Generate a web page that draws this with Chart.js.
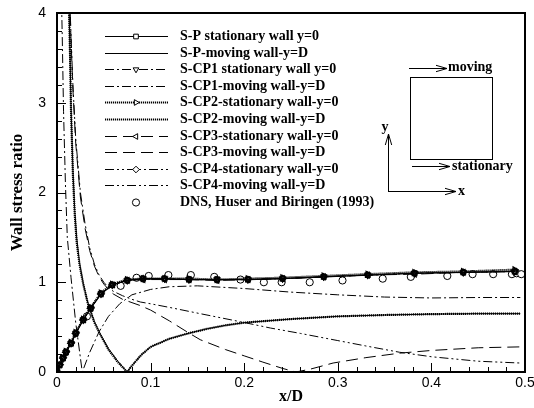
<!DOCTYPE html>
<html><head><meta charset="utf-8">
<script src="https://cdn.jsdelivr.net/npm/chart.js@4.4.1/dist/chart.umd.min.js"></script>
<style>html,body{margin:0;padding:0;background:#fff;}#wrap{width:534px;height:408px;}</style>
</head><body><div id="wrap"><canvas id="c" width="534" height="408"></canvas></div>
<script>
// ---- data ----
const seriesLabels = [
  "S-P stationary wall y=0", "S-P-moving wall-y=D",
  "S-CP1 stationary wall y=0", "S-CP1-moving wall-y=D",
  "S-CP2-stationary wall-y=0", "S-CP2-moving wall-y=D",
  "S-CP3-stationary wall-y=0", "S-CP3-moving wall-y=D",
  "S-CP4-stationary wall-y=0", "S-CP4-moving wall-y=D",
  "DNS, Huser and Biringen (1993)"
];
const xTicks = [0, 0.1, 0.2, 0.3, 0.4, 0.5];
const yTicks = [0, 1, 2, 3, 4];

const xStat   = [0, 0.003, 0.0064, 0.0096, 0.015, 0.02, 0.028, 0.036, 0.047, 0.059, 0.075, 0.092, 0.115, 0.141, 0.171, 0.204, 0.241, 0.285, 0.332, 0.382, 0.434, 0.489];
const spStat  = [0, 0.08, 0.156, 0.222, 0.32, 0.43, 0.58, 0.71, 0.87, 0.97, 1.02, 1.04, 1.04, 1.03, 1.03, 1.03, 1.04, 1.06, 1.08, 1.10, 1.11, 1.12];
const cp1Stat = [0, 0.08, 0.15, 0.22, 0.32, 0.43, 0.58, 0.71, 0.87, 0.97, 1.02, 1.04, 1.04, 1.03, 1.03, 1.03, 1.04, 1.06, 1.08, 1.10, 1.11, 1.12];
const cp2Stat = [0, 0.08, 0.16, 0.23, 0.33, 0.44, 0.59, 0.72, 0.88, 0.98, 1.03, 1.04, 1.04, 1.04, 1.03, 1.04, 1.05, 1.07, 1.09, 1.11, 1.12, 1.14];
const cp3Stat = [0, 0.08, 0.155, 0.22, 0.32, 0.43, 0.58, 0.71, 0.87, 0.97, 1.02, 1.03, 1.03, 1.03, 1.02, 1.03, 1.04, 1.06, 1.08, 1.09, 1.11, 1.12];
const cp4Stat = [0, 0.08, 0.155, 0.22, 0.32, 0.43, 0.58, 0.71, 0.87, 0.97, 1.02, 1.04, 1.04, 1.03, 1.03, 1.03, 1.04, 1.06, 1.08, 1.10, 1.11, 1.12];

const xSpMov  = [0.0125, 0.013, 0.014, 0.015, 0.017, 0.019, 0.021, 0.024, 0.028, 0.033, 0.04, 0.046, 0.055, 0.065, 0.075, 0.08, 0.09, 0.1, 0.12, 0.14, 0.16, 0.18, 0.2, 0.25, 0.3, 0.35, 0.4, 0.45, 0.495];
const spMov   = [4.2, 4.0, 3.5, 2.95, 2.25, 1.8, 1.5, 1.22, 0.99, 0.77, 0.56, 0.43, 0.26, 0.12, 0, 0.07, 0.19, 0.28, 0.37, 0.43, 0.48, 0.52, 0.55, 0.59, 0.62, 0.635, 0.645, 0.65, 0.65];
const xCp2Mov = [0.0125, 0.013, 0.014, 0.015, 0.017, 0.019, 0.021, 0.024, 0.028, 0.033, 0.04, 0.046, 0.055, 0.065, 0.075, 0.08, 0.09, 0.1, 0.12, 0.14, 0.16, 0.18, 0.2, 0.25, 0.3, 0.35, 0.4, 0.45, 0.495];
const cp2Mov  = [4.2, 4.0, 3.5, 2.9, 2.2, 1.75, 1.45, 1.2, 0.98, 0.76, 0.55, 0.42, 0.25, 0.11, 0, 0.07, 0.19, 0.28, 0.37, 0.43, 0.48, 0.52, 0.55, 0.59, 0.62, 0.635, 0.645, 0.65, 0.65];
const xCp1Mov = [0.0045, 0.0055, 0.007, 0.009, 0.011, 0.015, 0.02, 0.027, 0.035, 0.045, 0.055, 0.067, 0.08, 0.1, 0.12, 0.15, 0.2, 0.25, 0.3, 0.35, 0.4, 0.45, 0.495];
const cp1Mov  = [4.3, 3.8, 2.9, 2.1, 1.5, 1.05, 0.55, 0, 0.22, 0.45, 0.62, 0.76, 0.86, 0.92, 0.95, 0.96, 0.93, 0.89, 0.86, 0.835, 0.825, 0.83, 0.83];
const xCp3Mov = [0.0135, 0.015, 0.017, 0.02, 0.025, 0.03, 0.035, 0.04, 0.045, 0.05, 0.055, 0.06, 0.07, 0.089, 0.1, 0.12, 0.14, 0.153, 0.18, 0.2, 0.22, 0.241, 0.255, 0.27, 0.295, 0.33, 0.366, 0.4, 0.45, 0.495];
const cp3Mov  = [4.2, 3.7, 3.15, 2.55, 1.95, 1.6, 1.35, 1.18, 1.06, 0.98, 0.92, 0.87, 0.81, 0.74, 0.69, 0.57, 0.44, 0.36, 0.25, 0.18, 0.11, 0.04, 0, 0.03, 0.1, 0.16, 0.21, 0.24, 0.27, 0.28];
const xCp4Mov = [0.0135, 0.015, 0.017, 0.02, 0.025, 0.03, 0.035, 0.04, 0.045, 0.05, 0.055, 0.06, 0.07, 0.08, 0.089, 0.1, 0.12, 0.153, 0.196, 0.228, 0.26, 0.3, 0.33, 0.366, 0.4, 0.45, 0.495];
const cp4Mov  = [4.2, 3.75, 3.2, 2.6, 2.0, 1.65, 1.38, 1.2, 1.08, 1.0, 0.94, 0.9, 0.85, 0.81, 0.78, 0.76, 0.72, 0.65, 0.56, 0.49, 0.43, 0.35, 0.29, 0.22, 0.17, 0.12, 0.1];

const xDns = [0.032, 0.068, 0.085, 0.098, 0.119, 0.143, 0.168, 0.196, 0.221, 0.24, 0.27, 0.305, 0.348, 0.378, 0.417, 0.444, 0.466, 0.486, 0.491, 0.496];
const dns  = [0.62, 0.96, 1.05, 1.07, 1.08, 1.08, 1.06, 1.03, 1.0, 1.0, 1.0, 1.02, 1.04, 1.06, 1.07, 1.09, 1.09, 1.09, 1.1, 1.09];

// ---- build ----
const pts = (xs, ys) => xs.map((x, i) => ({x: x, y: ys[i]}));
const DASHDOT = [9, 3, 2, 3], DOT = [1.2, 0.8], LONG = [12, 6], DDOT = [9, 3, 2, 3, 2, 3];
function line(label, data, dash, width, pstyle, prot) {
  return {
    label: label, data: data, showLine: true, fill: false, tension: 0,
    borderColor: '#000', borderWidth: width, borderDash: dash,
    pointStyle: pstyle || 'circle', pointRotation: prot || 0,
    pointRadius: pstyle ? 3.3 : 0, pointHoverRadius: 0,
    pointBorderColor: '#000', pointBorderWidth: 1.2, pointBackgroundColor: 'rgba(0,0,0,0)'
  };
}
const datasets = [
  line(seriesLabels[0], pts(xStat, spStat), [], 1.2, 'rect', 0),
  line(seriesLabels[1], pts(xSpMov, spMov), [], 1),
  line(seriesLabels[2], pts(xStat, cp1Stat), DASHDOT, 1, 'triangle', 180),
  line(seriesLabels[3], pts(xCp1Mov, cp1Mov), DASHDOT, 1),
  line(seriesLabels[4], pts(xStat, cp2Stat), DOT, 2.2, 'triangle', 90),
  line(seriesLabels[5], pts(xCp2Mov, cp2Mov), DOT, 2.2),
  line(seriesLabels[6], pts(xStat, cp3Stat), LONG, 1, 'triangle', -90),
  line(seriesLabels[7], pts(xCp3Mov, cp3Mov), LONG, 1),
  line(seriesLabels[8], pts(xStat, cp4Stat), DDOT, 1, 'rectRot', 0),
  line(seriesLabels[9], pts(xCp4Mov, cp4Mov), DDOT, 1),
  {label: seriesLabels[10], data: pts(xDns, dns), showLine: false, pointStyle: 'circle',
   pointRadius: 3.6, pointHoverRadius: 0, pointBorderColor: '#000', pointBorderWidth: 1,
   pointBackgroundColor: '#fff', borderColor: '#000', borderWidth: 1, borderDash: []}
];

const SERIF = '"Liberation Serif", "Times New Roman", serif';
const SANS = '"Liberation Sans", Arial, sans-serif';

const framePlugin = {
  id: 'frame',
  afterDraw(chart) {
    const ctx = chart.ctx, a = chart.chartArea;
    const xs = chart.scales.x, ys = chart.scales.y;
    ctx.save();
    ctx.strokeStyle = '#000';
    ctx.setLineDash([]);
    ctx.lineWidth = 1;
    ctx.beginPath();
    for (let i = 0; i <= 25; i++) {
      const v = i * 0.02;
      const px = Math.round(xs.getPixelForValue(v)) + 0.5;
      const len = (i % 5 === 0) ? 9 : 5;
      ctx.moveTo(px, a.bottom); ctx.lineTo(px, a.bottom - len);
    }
    for (let i = 0; i <= 20; i++) {
      const v = i * 0.2;
      const py = Math.round(ys.getPixelForValue(v)) + 0.5;
      const len = (i % 5 === 0) ? 9 : 5;
      ctx.moveTo(a.left, py); ctx.lineTo(a.left + len, py);
    }
    ctx.stroke();
    ctx.lineWidth = 2;
    ctx.strokeRect(a.left, a.top, a.right - a.left, a.bottom - a.top);
    ctx.restore();
  }
};

const legendPlugin = {
  id: 'customLegend',
  afterDraw(chart) {
    const ctx = chart.ctx;
    const x0 = 105, x1 = 168, xm = 136, xt = 180, y0 = 36, dy = 16.6;
    ctx.save();
    chart.data.datasets.forEach((ds, i) => {
      const y = Math.round(y0 + i * dy) + 0.5;
      ctx.strokeStyle = '#000';
      if (ds.showLine) {
        ctx.lineWidth = ds.borderWidth;
        ctx.setLineDash(ds.borderDash || []);
        ctx.beginPath(); ctx.moveTo(x0, y); ctx.lineTo(x1, y); ctx.stroke();
      }
      ctx.setLineDash([]);
      if (ds.pointRadius > 0) {
        ctx.fillStyle = '#fff';
        ctx.lineWidth = 1;
        Chart.helpers.drawPoint(ctx, {pointStyle: ds.pointStyle, rotation: ds.pointRotation || 0,
          radius: ds.pointRadius, borderWidth: 1}, xm, y);
      }
      ctx.fillStyle = '#000';
      ctx.font = 'bold 14px ' + SERIF;
      ctx.textBaseline = 'middle';
      ctx.textAlign = 'left';
      ctx.fillText(ds.label, xt, y);
    });
    ctx.restore();
  }
};

function arrow(ctx, x1, y1, x2, y2) {
  const ang = Math.atan2(y2 - y1, x2 - x1), L = 11, W = 3.2;
  ctx.beginPath();
  ctx.moveTo(x1, y1); ctx.lineTo(x2, y2);
  const bx = x2 - L * Math.cos(ang), by = y2 - L * Math.sin(ang);
  const nx = -Math.sin(ang) * W, ny = Math.cos(ang) * W;
  ctx.moveTo(bx + nx, by + ny); ctx.lineTo(x2, y2); ctx.lineTo(bx - nx, by - ny);
  ctx.stroke();
}
const insetPlugin = {
  id: 'inset',
  afterDraw(chart) {
    const ctx = chart.ctx;
    ctx.save();
    ctx.strokeStyle = '#000'; ctx.fillStyle = '#000'; ctx.lineWidth = 1; ctx.setLineDash([]);
    ctx.strokeRect(410.5, 77.5, 82, 82);
    arrow(ctx, 409, 68.5, 447, 68.5);
    arrow(ctx, 412, 166.5, 450, 166.5);
    arrow(ctx, 388.5, 192, 388.5, 134);
    arrow(ctx, 388, 191.5, 456, 191.5);
    ctx.font = 'bold 14px ' + SERIF;
    ctx.textBaseline = 'middle'; ctx.textAlign = 'left';
    ctx.fillText('moving', 448, 67);
    ctx.fillText('stationary', 452, 166);
    ctx.fillText('x', 458, 191);
    ctx.textAlign = 'center';
    ctx.fillText('y', 385, 127);
    ctx.restore();
  }
};

new Chart(document.getElementById('c'), {
  type: 'scatter',
  data: {datasets: datasets},
  options: {
    responsive: false, animation: false, devicePixelRatio: 1,
    layout: {padding: {top: 13, right: 9, left: 0, bottom: 0}},
    plugins: {legend: {display: false}, tooltip: {enabled: false}},
    elements: {line: {borderCapStyle: 'butt'}},
    scales: {
      x: {
        type: 'linear', min: 0, max: 0.5,
        grid: {display: false, drawTicks: false},
        border: {display: false},
        afterBuildTicks: s => { s.ticks = xTicks.map(v => ({value: v})); },
        ticks: {padding: 3, color: '#000', font: {family: SANS, size: 14},
          callback: v => (v === 0 ? '0' : (+v).toFixed(1)), maxRotation: 0, autoSkip: false},
        title: {display: true, text: 'x/D', color: '#000',
          font: {family: SERIF, size: 16, weight: 'bold'}, padding: {top: 0, bottom: 2}},
        afterFit: s => { s.height = 36; s.paddingLeft = 0; s.paddingRight = 0; }
      },
      y: {
        type: 'linear', min: 0, max: 4,
        grid: {display: false, drawTicks: false},
        border: {display: false},
        afterBuildTicks: s => { s.ticks = yTicks.map(v => ({value: v})); },
        ticks: {padding: 11, color: '#000', font: {family: SANS, size: 14},
          callback: v => String(v), autoSkip: false},
        title: {display: true, text: 'Wall stress ratio', color: '#000',
          font: {family: SERIF, size: 17, weight: 'bold'}, padding: {top: 7, bottom: 0}},
        afterFit: s => { s.width = 57; s.paddingTop = 0; s.paddingBottom = 0; }
      }
    }
  },
  plugins: [framePlugin, legendPlugin, insetPlugin]
});
</script></body></html>
